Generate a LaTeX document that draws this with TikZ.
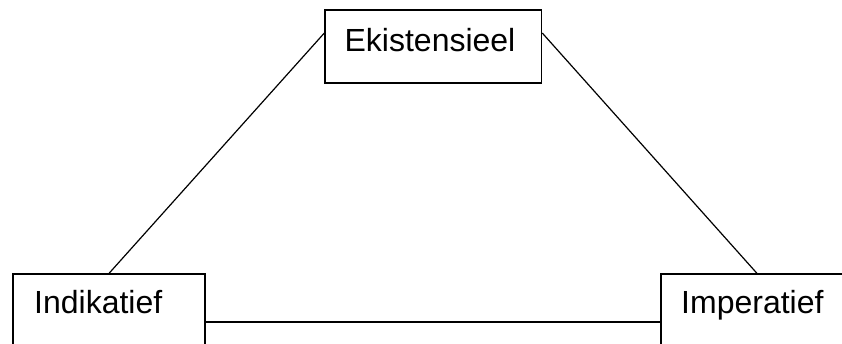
\documentclass[tikz,border=0pt]{standalone}
\usepackage{fontspec}
\setmainfont{Liberation Sans}
\begin{document}
\begin{tikzpicture}[x=1pt,y=1pt,
  box/.style={draw=black,line width=1.2pt,fill=white,rectangle,inner sep=0pt},
  txt/.style={inner sep=0pt,font=\fontsize{32}{36}\selectfont},
  conn/.style={draw=black,line width=1.2pt}]
\useasboundingbox (0,0) rectangle (842,-344);
\begin{scope}
\clip (0,0) rectangle (842,-344);
\node[box,minimum width=216.7pt,minimum height=73pt] (e) at (433.3,-46.5) {};
\node[box,minimum width=192pt,minimum height=96pt] (ind) at (109,-322) {};
\node[box,minimum width=192pt,minimum height=96pt] (imp) at (757,-322) {};
\coordinate (el) at ([yshift=13.5pt]e.west);
\coordinate (er) at ([yshift=13.5pt]e.east);
\draw[conn] (el) -- (ind.north);
\draw[conn] (er) -- (imp.north);
\draw[conn] (ind.east) -- (imp.west);
\node[txt,anchor=base] (et) at (430,-51.7) {Ekistensieel};
\node[txt,anchor=base west] (indt) at (34,-313) {Indikatief};
\node[txt,anchor=base west] (impt) at (681,-313) {Imperatief};
\end{scope}
\end{tikzpicture}
\end{document}
